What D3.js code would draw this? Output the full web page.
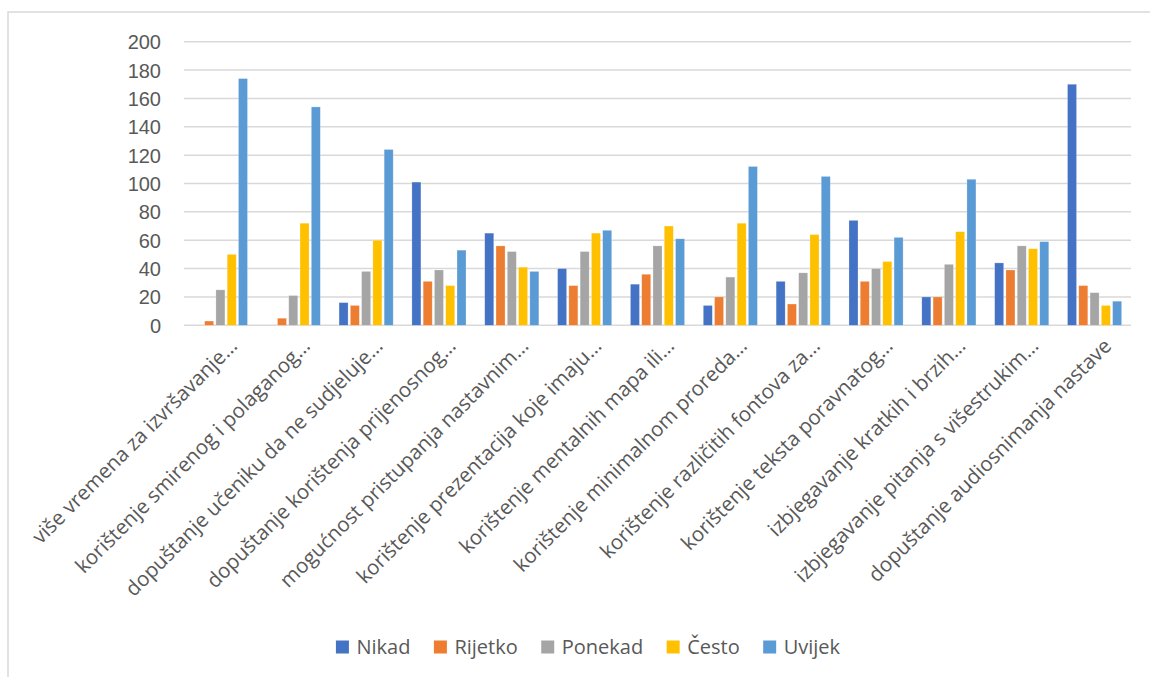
<!DOCTYPE html>
<html>
<head>
<meta charset="utf-8">
<script src="https://cdn.jsdelivr.net/npm/d3@7"></script>
<style>
    body { margin: 0; background: #fff; }
    svg { display: block; font-family: "Open Sans", "Noto Sans", sans-serif; }
    .grid line { stroke: #d9d9d9; stroke-width: 1.5; }
    .axis text { fill: #595959; }
</style>
</head>
<body>
<div id="chart"></div>
<script>
// categories as they are shown on the axis (already cut by the chart tool)
const categories = [
    "više vremena za izvršavanje…",
    "korištenje smirenog i polaganog…",
    "dopuštanje učeniku da ne sudjeluje…",
    "dopuštanje korištenja prijenosnog…",
    "mogućnost pristupanja nastavnim…",
    "korištenje prezentacija koje imaju…",
    "korištenje mentalnih mapa ili…",
    "korištenje minimalnom proreda…",
    "korištenje različitih fontova za…",
    "korištenje teksta poravnatog…",
    "izbjegavanje kratkih i brzih…",
    "izbjegavanje pitanja s višestrukim…",
    "dopuštanje audiosnimanja nastave"
];

const seriesNames = ["Nikad", "Rijetko", "Ponekad", "Često", "Uvijek"];
const seriesColours = ["#4472C4", "#ED7D31", "#A5A5A5", "#FFC000", "#5B9BD5"];

const nikad   = [0, 0, 16, 101, 65, 40, 29, 14, 31, 74, 20, 44, 170];
const rijetko = [3, 5, 14, 31, 56, 28, 36, 20, 15, 31, 20, 39, 28];
const ponekad = [25, 21, 38, 39, 52, 52, 56, 34, 37, 40, 43, 56, 23];
const cesto   = [50, 72, 60, 28, 41, 65, 70, 72, 64, 45, 66, 54, 14];
const uvijek  = [174, 154, 124, 53, 38, 67, 61, 112, 105, 62, 103, 59, 17];

const yTicks = [0, 20, 40, 60, 80, 100, 120, 140, 160, 180, 200];

const seriesValues = [nikad, rijetko, ponekad, cesto, uvijek];

const width = 1150, height = 677;
const margin = {top: 41.7, right: 19, bottom: 352, left: 184};

const svg = d3.select("#chart").append("svg")
    .attr("width", width)
    .attr("height", height);

// chart frame (only top and left edges are inside the picture)
svg.append("path")
    .attr("d", `M8,${height} L8,12 L${width},12`)
    .attr("fill", "none")
    .attr("stroke", "#d9d9d9")
    .attr("stroke-width", 1.5);

const x0 = d3.scaleBand()
    .domain(categories)
    .range([margin.left, width - margin.right]);

const x1 = d3.scaleBand()
    .domain(seriesNames)
    .range([0, x0.bandwidth()])
    .paddingInner(0.2)
    .paddingOuter(0.83);

const y = d3.scaleLinear()
    .domain([0, 200])
    .range([height - margin.bottom + 0.3, margin.top]);

// gridlines
svg.append("g")
    .attr("class", "grid")
    .selectAll("line")
    .data(yTicks)
    .join("line")
        .attr("x1", margin.left)
        .attr("x2", width - margin.right)
        .attr("y1", d => y(d))
        .attr("y2", d => y(d));

// y axis labels
svg.append("g")
    .attr("class", "axis axis--y")
    .attr("transform", `translate(${margin.left - 23},0)`)
    .call(d3.axisLeft(y).tickValues(yTicks).tickSize(0).tickPadding(0))
    .call(g => g.select(".domain").remove())
    .selectAll("text")
        .style("font-size", "20px")
        .attr("dy", "0.35em");

// bars
const rows = categories.map((c, i) => ({
    category: c,
    values: seriesNames.map((s, j) => ({series: s, value: seriesValues[j][i], colour: seriesColours[j]}))
}));

svg.append("g")
    .selectAll("g")
    .data(rows)
    .join("g")
        .attr("transform", d => `translate(${x0(d.category)},0)`)
    .selectAll("rect")
    .data(d => d.values)
    .join("rect")
        .attr("x", d => x1(d.series))
        .attr("y", d => y(d.value))
        .attr("width", x1.bandwidth())
        .attr("height", d => y(0) - y(d.value))
        .attr("fill", d => d.colour)
        .attr("stroke", "#fff")
        .attr("stroke-opacity", 0.4)
        .attr("stroke-width", 0.6);

// category labels, rotated -45, end of text just right of the group centre
svg.append("g")
    .attr("class", "axis axis--x")
    .selectAll("text")
    .data(categories)
    .join("text")
        .attr("transform", d => `translate(${x0(d) + x0.bandwidth() / 2 + 18},${y(0) + 22}) rotate(-45)`)
        .attr("text-anchor", "end")
        .style("font-size", "20.5px")
        .text(d => d);

// legend
const legend = svg.append("g").attr("class", "axis legend");
const items = legend.selectAll("g")
    .data(seriesNames)
    .join("g");

items.append("rect")
    .attr("width", 13)
    .attr("height", 13)
    .attr("y", -6.5)
    .attr("fill", (d, i) => seriesColours[i]);

items.append("text")
    .attr("x", 20.5)
    .attr("dy", "0.36em")
    .style("font-size", "20px")
    .text(d => d);

let offset = 0;
items.each(function () {
    const g = d3.select(this);
    g.attr("transform", `translate(${offset},0)`);
    offset += 20.5 + g.select("text").node().getComputedTextLength() + 23.5;
});
offset -= 23.5;
legend.attr("transform", `translate(${588 - offset / 2},647)`);
</script>
</body>
</html>
